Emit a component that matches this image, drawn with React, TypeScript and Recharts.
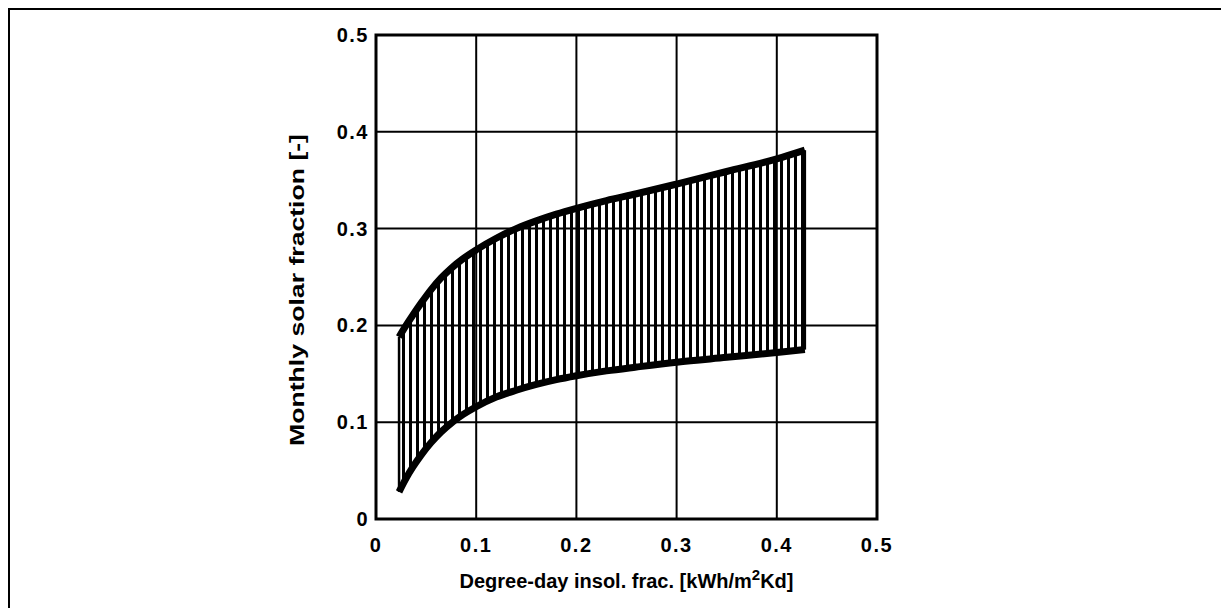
import React from 'react';
import {
  ComposedChart,
  Area,
  Line,
  XAxis,
  YAxis,
  CartesianGrid,
  ReferenceArea,
} from 'recharts';

// x positions (degree-day insolation fraction)
const xValues = [0.023, 0.03, 0.037, 0.045, 0.055, 0.065, 0.075, 0.087, 0.1, 0.12, 0.14, 0.16, 0.18, 0.2, 0.23, 0.26, 0.3, 0.35, 0.4, 0.428];
// upper boundary of monthly solar fraction
const upperValues = [0.188, 0.2, 0.211, 0.223, 0.237, 0.249, 0.259, 0.269, 0.278, 0.29, 0.3, 0.308, 0.315, 0.321, 0.329, 0.336, 0.346, 0.359, 0.372, 0.381];
// lower boundary of monthly solar fraction
const lowerValues = [0.028, 0.042, 0.054, 0.066, 0.079, 0.09, 0.099, 0.108, 0.116, 0.126, 0.133, 0.139, 0.144, 0.148, 0.153, 0.157, 0.162, 0.167, 0.172, 0.175];

const xTicks = [0, 0.1, 0.2, 0.3, 0.4, 0.5];
const xTickLabels = ['0', '0.1', '0.2', '0.3', '0.4', '0.5'];
const yTicks = [0, 0.1, 0.2, 0.3, 0.4, 0.5];
const yTickLabels = ['0', '0.1', '0.2', '0.3', '0.4', '0.5'];

const xTitleMain = 'Degree-day insol. frac. [kWh/m';
const xTitleSup = '2';
const xTitleEnd = 'Kd]';
const yTitle = 'Monthly solar fraction [-]';

const bandData = xValues.map((x, i) => ({ x, band: [lowerValues[i], upperValues[i]] }));
const upperData = xValues.map((x, i) => ({ x, y: upperValues[i] }));
const lowerData = xValues.map((x, i) => ({ x, y: lowerValues[i] }));
const leftEdge = [
  { x: xValues[0], y: lowerValues[0] },
  { x: xValues[0], y: upperValues[0] },
];
const last = xValues.length - 1;
const rightEdge = [
  { x: xValues[last], y: lowerValues[last] },
  { x: xValues[last], y: upperValues[last] },
];

const FONT = '"Liberation Sans", Arial, Helvetica, sans-serif';

const XTick = (props: any) => {
  const { x, y, payload } = props;
  const idx = xTicks.indexOf(payload.value);
  return (
    <text x={x} y={y + 26} textAnchor="middle" dominantBaseline="central" fontFamily={FONT} fontWeight="bold" fontSize={20} letterSpacing={1.5} fill="#000">
      {idx >= 0 ? xTickLabels[idx] : payload.value}
    </text>
  );
};

const YTick = (props: any) => {
  const { x, y, payload } = props;
  const idx = yTicks.indexOf(payload.value);
  return (
    <text x={x - 7} y={y} textAnchor="end" dominantBaseline="central" fontFamily={FONT} fontWeight="bold" fontSize={20} letterSpacing={1.5} fill="#000">
      {idx >= 0 ? yTickLabels[idx] : payload.value}
    </text>
  );
};

const XTitle = (props: any) => {
  const vb = props.viewBox || {};
  const cx = vb.x + vb.width / 2;
  const cy = vb.y + 62;
  return (
    <text x={cx} y={cy} textAnchor="middle" dominantBaseline="central" fontFamily={FONT} fontWeight="bold" fontSize={20} fill="#000">
      <tspan>{xTitleMain}</tspan>
      <tspan fontSize={15} dy={-7}>{xTitleSup}</tspan>
      <tspan dy={7}>{xTitleEnd}</tspan>
    </text>
  );
};

const YTitle = (props: any) => {
  const vb = props.viewBox || {};
  const cx = 287;
  const cy = vb.y + vb.height / 2 + 13;
  return (
    <text
      x={cx}
      y={cy}
      textAnchor="middle"
      dominantBaseline="central"
      fontFamily={FONT}
      fontWeight="bold"
      fontSize={20}
      fill="#000"
      textLength={312}
      lengthAdjust="spacingAndGlyphs"
      transform={`rotate(-90 ${cx} ${cy})`}
    >
      {yTitle}
    </text>
  );
};

export default function App() {
  return (
    <div
      style={{
        marginLeft: -1,
        marginTop: -1,
        width: 1215,
        height: 598,
        borderLeft: '3px solid #000',
        borderTop: '3px solid #000',
        background: '#fff',
      }}
    >
      <ComposedChart
        width={1200}
        height={590}
        margin={{ top: 25, right: 333, bottom: 0, left: 0 }}
      >
        <defs>
          <pattern id="hatch" patternUnits="userSpaceOnUse" width={7} height={10}>
            <rect x={0} y={0} width={3} height={10} fill="#000" />
          </pattern>
        </defs>
        <XAxis
          dataKey="x"
          type="number"
          domain={[0, 0.5]}
          ticks={xTicks}
          allowDataOverflow
          axisLine={false}
          tickLine={false}
          tickSize={0}
          tickMargin={0}
          height={81}
          tick={<XTick />}
          label={{ content: <XTitle /> } as any}
        />
        <YAxis
          dataKey="y"
          type="number"
          domain={[0, 0.5]}
          ticks={yTicks}
          allowDataOverflow
          axisLine={false}
          tickLine={false}
          tickSize={0}
          tickMargin={0}
          width={366}
          tick={<YTick />}
          label={{ content: <YTitle /> } as any}
        />
        <CartesianGrid stroke="#000" strokeWidth={2} strokeOpacity={1} />
        <Area
          data={bandData}
          dataKey="band"
          type="monotone"
          stroke="none"
          fill="url(#hatch)"
          fillOpacity={1}
          isAnimationActive={false}
          activeDot={false}
          dot={false}
        />
        <Line data={leftEdge} dataKey="y" stroke="#000" strokeWidth={2.5} dot={false} isAnimationActive={false} activeDot={false} />
        <Line data={rightEdge} dataKey="y" stroke="#000" strokeWidth={2.5} dot={false} isAnimationActive={false} activeDot={false} />
        <Line data={upperData} dataKey="y" type="monotone" stroke="#000" strokeWidth={7} dot={false} isAnimationActive={false} activeDot={false} />
        <Line data={lowerData} dataKey="y" type="monotone" stroke="#000" strokeWidth={7} dot={false} isAnimationActive={false} activeDot={false} />
        <ReferenceArea x1={0} x2={0.5} y1={0} y2={0.5} fill="none" stroke="#000" strokeWidth={3} ifOverflow="visible" />
      </ComposedChart>
    </div>
  );
}
